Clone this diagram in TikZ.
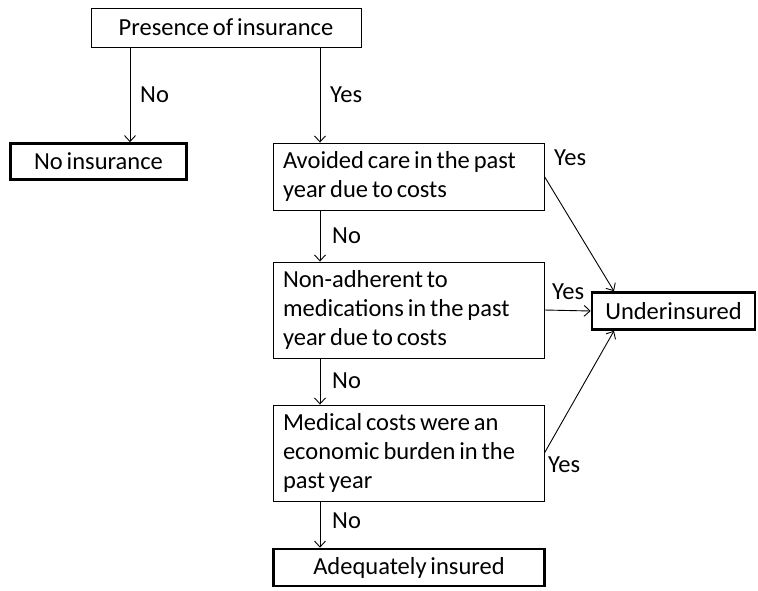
\documentclass[tikz,border=0pt]{standalone}
\usepackage{fontspec}
\setmainfont{Carlito}[WordSpace=0.7]
\usetikzlibrary{arrows.meta}
\begin{document}
\begin{tikzpicture}[x=1pt,y=-1pt,
  every node/.style={font=\fontsize{24.5}{29}\selectfont},
  box/.style={draw, line width=0.9pt, inner sep=0pt},
  endbox/.style={draw, line width=2.6pt, inner sep=0pt},
  multi/.style={box, text width=251pt, inner xsep=10pt,
    execute at begin node={\raggedright\spaceskip=0.16em\relax\xspaceskip=0.16em\relax}},
  lbl/.style={inner sep=0pt, anchor=west},
  arr/.style={line width=0.9pt, -{Straight Barb[length=6pt,width=11pt]}}]
\useasboundingbox (0,0) rectangle (758,590);
\fill[white] (0,0) rectangle (758,590);

\node[box, minimum width=270pt, minimum height=39pt] (presence) at (226,27.5) {Presence of insurance};
\node[endbox, minimum width=176pt, minimum height=36pt] (noins) at (98.5,161.5) {No insurance};
\node[multi, minimum height=67pt] (avoided) at (408.5,176.5) {Avoided care in the past\\year due to costs};
\node[multi, minimum height=96pt] (nonadh) at (408.5,310) {Non-adherent to\\medications in the past\\year due to costs};
\node[multi, minimum height=96pt] (medical) at (408.5,453) {Medical costs were an\\economic burden in the\\past year};
\node[endbox, minimum width=271pt, minimum height=37pt] (adequate) at (409,567.5) {Adequately insured};
\node[endbox, minimum width=163pt, minimum height=37pt] (under) at (673.5,311) {Underinsured};

\coordinate (nox) at (130,0);
\coordinate (yx) at (320,0);
\coordinate (ux) at (614,0);

\draw[arr] (presence.south -| nox) -- (noins.north -| nox);
\draw[arr] (presence.south -| yx) -- (avoided.north -| yx);
\draw[arr] (avoided.south -| yx) -- (nonadh.north -| yx);
\draw[arr] (nonadh.south -| yx) -- (medical.north -| yx);
\draw[arr] (medical.south -| yx) -- (adequate.north -| yx);
\draw[arr] (avoided.east) -- (under.north -| ux);
\draw[arr] (nonadh.east) -- (under.west);
\draw[arr] (medical.east) -- (under.south -| ux);

\node[lbl] (l1) at (140,95) {No};
\node[lbl] (l2) at (330,95) {Yes};
\node[lbl] (l3) at (554,158) {Yes};
\node[lbl] (l4) at (332,236) {No};
\node[lbl] (l5) at (552,292) {Yes};
\node[lbl] (l6) at (332,381) {No};
\node[lbl] (l7) at (548,465) {Yes};
\node[lbl] (l8) at (332,521) {No};
\end{tikzpicture}
\end{document}
